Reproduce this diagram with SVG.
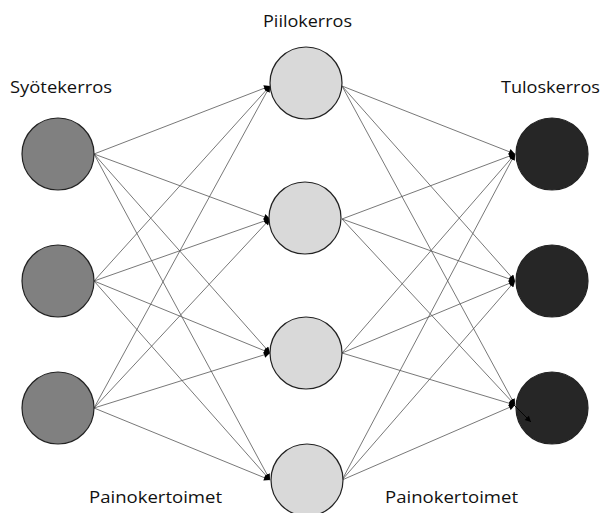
<svg xmlns="http://www.w3.org/2000/svg" width="602" height="513" viewBox="0 0 602 513">
  <style>
    .lbl { font-family: "Open Sans", "Noto Sans", "Liberation Sans", sans-serif; font-size: 17px; fill: #111; }
    .node { stroke: #222; stroke-width: 1.2; }
    .in { fill: #808080; }
    .hid { fill: #d9d9d9; }
    .out { fill: #262626; }
    .edge { stroke: #555; stroke-width: 0.8; fill: none; marker-end: url(#tip); }
  </style>
  <defs>
    <marker id="tip" viewBox="0 0 10 10" refX="10" refY="5" markerWidth="8" markerHeight="6" markerUnits="userSpaceOnUse" orient="auto">
      <path d="M0,0 L10,5 L0,10 Z" fill="#000"/>
    </marker>
  </defs>

  <rect width="602" height="513" fill="#fff"/>

  <!-- weights: input -> hidden, hidden -> output -->
  <g id="connectors">
    <line class="edge" x1="94" y1="154" x2="270" y2="86"/>
    <line class="edge" x1="94" y1="154" x2="270" y2="219"/>
    <line class="edge" x1="94" y1="154" x2="270" y2="353"/>
    <line class="edge" x1="94" y1="154" x2="270" y2="480"/>
    <line class="edge" x1="94" y1="281" x2="270" y2="86"/>
    <line class="edge" x1="94" y1="281" x2="270" y2="219"/>
    <line class="edge" x1="94" y1="281" x2="270" y2="353"/>
    <line class="edge" x1="94" y1="281" x2="270" y2="480"/>
    <line class="edge" x1="94" y1="408" x2="270" y2="86"/>
    <line class="edge" x1="94" y1="408" x2="270" y2="219"/>
    <line class="edge" x1="94" y1="408" x2="270" y2="353"/>
    <line class="edge" x1="94" y1="408" x2="270" y2="480"/>

    <line class="edge" x1="342" y1="86" x2="515" y2="154"/>
    <line class="edge" x1="342" y1="86" x2="515" y2="281"/>
    <line class="edge" x1="342" y1="86" x2="515" y2="405"/>
    <line class="edge" x1="342" y1="219" x2="515" y2="154"/>
    <line class="edge" x1="342" y1="219" x2="515" y2="281"/>
    <line class="edge" x1="342" y1="219" x2="515" y2="405"/>
    <line class="edge" x1="342" y1="353" x2="515" y2="154"/>
    <line class="edge" x1="342" y1="353" x2="515" y2="281"/>
    <line class="edge" x1="342" y1="353" x2="515" y2="405"/>
    <line class="edge" x1="342" y1="480" x2="515" y2="154"/>
    <line class="edge" x1="342" y1="480" x2="515" y2="281"/>
    <line class="edge" x1="342" y1="480" x2="515" y2="405"/>
  </g>

  <g id="input-1"><circle class="node in" cx="58" cy="154" r="36"/></g>
  <g id="input-2"><circle class="node in" cx="58" cy="281" r="36"/></g>
  <g id="input-3"><circle class="node in" cx="58" cy="408" r="36"/></g>

  <g id="hidden-1"><circle class="node hid" cx="306" cy="83" r="36"/></g>
  <g id="hidden-2"><circle class="node hid" cx="305" cy="218" r="36"/></g>
  <g id="hidden-3"><circle class="node hid" cx="306" cy="353" r="36"/></g>
  <g id="hidden-4"><circle class="node hid" cx="307" cy="480" r="36"/></g>

  <g id="output-1"><circle class="node out" cx="552" cy="154" r="36"/></g>
  <g id="output-2"><circle class="node out" cx="552" cy="281" r="36"/></g>
  <g id="output-3"><circle class="node out" cx="552" cy="408" r="36"/></g>

  <!-- stray arrow running into the last output node -->
  <line x1="512" y1="403" x2="531" y2="422" stroke="#000" stroke-width="0.9" marker-end="url(#tip)"/>

  <g id="labels">
    <text class="lbl" x="10" y="93" textLength="102" lengthAdjust="spacingAndGlyphs">Syötekerros</text>
    <text class="lbl" x="263" y="27" textLength="89" lengthAdjust="spacingAndGlyphs">Piilokerros</text>
    <text class="lbl" x="501" y="93" textLength="99" lengthAdjust="spacingAndGlyphs">Tuloskerros</text>
    <text class="lbl" x="89" y="503" textLength="133" lengthAdjust="spacingAndGlyphs">Painokertoimet</text>
    <text class="lbl" x="385" y="503" textLength="133" lengthAdjust="spacingAndGlyphs">Painokertoimet</text>
  </g>
</svg>
